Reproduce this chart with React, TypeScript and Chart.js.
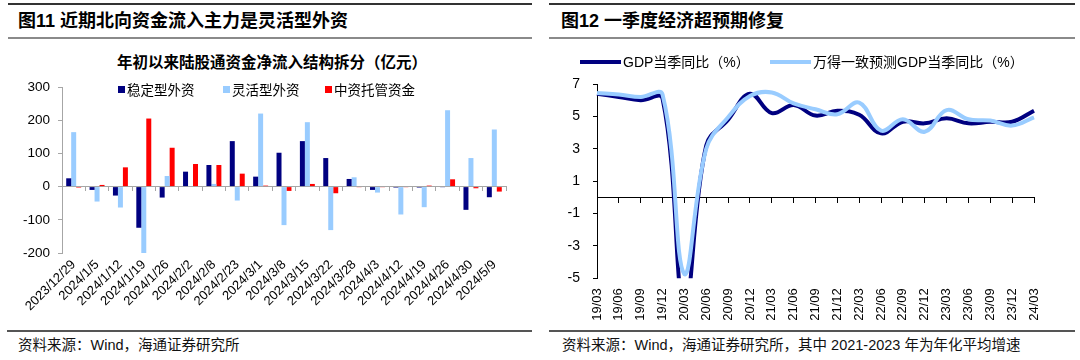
import React, { useEffect, useRef } from 'react';
import { Chart, registerables } from 'chart.js';

Chart.register(...registerables);

// ---------- Data: Figure 11 ----------
const flowDates = [
  '2023/12/29', '2024/1/5', '2024/1/12', '2024/1/19', '2024/1/26', '2024/2/2', '2024/2/8',
  '2024/2/23', '2024/3/1', '2024/3/8', '2024/3/15', '2024/3/22', '2024/3/28', '2024/4/3',
  '2024/4/12', '2024/4/19', '2024/4/26', '2024/4/30', '2024/5/9',
];
const stableForeign = [25, -10, -27, -124, -33, 45, 65, 137, 30, 102, 137, 86, 23, -10, -3, -3, -2, -70, -32];
const flexibleForeign = [164, -45, -63, -203, 32, 1, 8, -42, 220, -116, 194, -131, 28, -18, -84, -62, 230, 86, 172];
const chineseCustody = [-3, 5, 58, 205, 117, 68, 65, 39, 3, -13, 8, -20, -2, -2, -2, 3, 22, -5, -15];
const flowSeriesNames = ['稳定型外资', '灵活型外资', '中资托管资金'];

// ---------- Data: Figure 12 ----------
const quarters = [
  '19/03', '19/06', '19/09', '19/12', '20/03', '20/06', '20/09', '20/12', '21/03', '21/06', '21/09',
  '21/12', '22/03', '22/06', '22/09', '22/12', '23/03', '23/06', '23/09', '23/12', '24/03',
];
const gdpYoY = [6.4, 6.2, 6.0, 6.1, -6.8, 3.2, 4.8, 6.4, 5.2, 5.7, 5.05, 5.35, 5.1, 3.95, 4.67, 4.57, 4.88, 4.57, 4.67, 4.67, 5.35];
const consensusYoY = [6.45, 6.35, 6.2, 6.35, -4.75, 3.0, 4.95, 6.26, 6.48, 5.8, 5.44, 5.13, 5.85, 4.12, 4.82, 4.05, 5.39, 4.82, 4.74, 4.43, 4.94];
const gdpSeriesNames = ['GDP当季同比（%）', '万得一致预测GDP当季同比（%）'];

const SANS = '"Liberation Sans", Arial, "Noto Sans CJK SC", sans-serif';
const CJK = '"Noto Sans CJK SC", "Liberation Sans", sans-serif';
const MIXED = '"Liberation Sans", "Noto Sans CJK SC", sans-serif';

const NAVY = '#000080';
const LIGHT = '#99ccff';
const RED = '#ff0000';

function FlowChart() {
  const ref = useRef<HTMLCanvasElement>(null);
  useEffect(() => {
    const chart = new Chart(ref.current!, {
      type: 'bar',
      data: {
        labels: flowDates,
        datasets: [
          { label: flowSeriesNames[0], data: stableForeign, backgroundColor: NAVY },
          { label: flowSeriesNames[1], data: flexibleForeign, backgroundColor: LIGHT },
          { label: flowSeriesNames[2], data: chineseCustody, backgroundColor: RED },
        ],
      },
      options: {
        animation: false,
        responsive: false,
        layout: { padding: { top: 42, right: 24, left: 0, bottom: 0 } },
        plugins: { legend: { display: false }, tooltip: { enabled: false } },
        datasets: { bar: { categoryPercentage: 0.64, barPercentage: 1 } },
        scales: {
          x: {
            offset: true,
            grid: { display: false, drawTicks: false },
            border: { display: false },
            ticks: {
              autoSkip: false, minRotation: 45, maxRotation: 45, padding: 4, color: '#000',
              font: { family: SANS, size: 13 },
            },
            afterFit: (s: any) => { s.height = 75; },
          },
          x0: {
            type: 'category',
            position: { y: 0 },
            offset: true,
            grid: { offset: true, drawOnChartArea: false, tickLength: 4, color: '#a6a6a6' },
            border: { color: '#a6a6a6' },
            ticks: { display: false },
          },
          y: {
            min: -200, max: 300,
            ticks: { stepSize: 100, padding: 8, color: '#000', font: { family: SANS, size: 13.5 } },
            grid: { drawOnChartArea: false, tickLength: 4, color: '#a6a6a6' },
            border: { color: '#a6a6a6' },
            afterFit: (s: any) => { s.width = 42; },
          },
        },
      } as any,
    });
    return () => chart.destroy();
  }, []);
  return (
    <canvas ref={ref} width={510} height={283}
      style={{ position: 'absolute', left: 20, top: 45, width: 510, height: 283 }} />
  );
}

function GdpChart() {
  const ref = useRef<HTMLCanvasElement>(null);
  useEffect(() => {
    const chart = new Chart(ref.current!, {
      type: 'line',
      data: {
        labels: quarters,
        datasets: [
          {
            label: gdpSeriesNames[0], data: gdpYoY, borderColor: NAVY, backgroundColor: NAVY,
            borderWidth: 4, pointRadius: 0, tension: 0.4, order: 1,
            clip: { left: 4, right: 4, top: 4, bottom: 0 },
          },
          {
            label: gdpSeriesNames[1], data: consensusYoY, borderColor: LIGHT, backgroundColor: LIGHT,
            borderWidth: 4, pointRadius: 0, tension: 0.4, order: 0,
            clip: { left: 4, right: 4, top: 4, bottom: 0 },
          },
        ],
      },
      options: {
        animation: false,
        responsive: false,
        layout: { padding: { top: 39, right: 41, left: 0, bottom: 0 } },
        plugins: { legend: { display: false }, tooltip: { enabled: false } },
        scales: {
          x: {
            offset: false,
            grid: { display: false, drawTicks: false },
            border: { display: false },
            ticks: {
              autoSkip: false, minRotation: 90, maxRotation: 90, padding: 10, color: '#000',
              font: { family: SANS, size: 13 },
            },
            afterFit: (s: any) => { s.height = 49.7; },
          },
          x0: {
            type: 'category',
            position: { y: 0 },
            offset: false,
            grid: { offset: false, drawOnChartArea: false, tickLength: 5, color: '#000' },
            border: { color: '#000' },
            ticks: { display: false },
          },
          y: {
            min: -5, max: 7,
            ticks: { stepSize: 2, padding: 13, color: '#000', font: { family: SANS, size: 14 } },
            grid: { drawOnChartArea: false, tickLength: 4, color: '#000' },
            border: { color: '#000' },
            afterFit: (s: any) => { s.width = 48; },
          },
        },
      } as any,
    });
    return () => chart.destroy();
  }, []);
  return (
    <canvas ref={ref} width={526} height={283}
      style={{ position: 'absolute', left: 549, top: 45, width: 526, height: 283 }} />
  );
}

const abs = (s: React.CSSProperties): React.CSSProperties => ({ position: 'absolute', ...s });

export default function App() {
  return (
    <div style={abs({ left: 0, top: 0, width: 1080, height: 360, background: '#fff', overflow: 'hidden', fontFamily: MIXED, color: '#000' })}>
      {/* Left panel frame */}
      <div style={abs({ left: 8, top: 3, width: 524, height: 2, background: '#333' })} />
      <div style={abs({ left: 18, top: 11, lineHeight: '20px', fontSize: 18, fontWeight: 700, whiteSpace: 'nowrap' })}>
        图11 近期北向资金流入主力是灵活型外资
      </div>
      <div style={abs({ left: 8, top: 37, width: 524, height: 2, background: '#8a8a8a' })} />
      <div style={abs({ left: 20, width: 504, top: 51, lineHeight: '20px', fontSize: 15.5, fontWeight: 700, textAlign: 'center', fontFamily: CJK, whiteSpace: 'nowrap' })}>
        年初以来陆股通资金净流入结构拆分（亿元）
      </div>
      <FlowChart />
      {/* left legend */}
      {[
        { x: 118, c: NAVY, t: flowSeriesNames[0] },
        { x: 223, c: LIGHT, t: flowSeriesNames[1] },
        { x: 325, c: RED, t: flowSeriesNames[2] },
      ].map((it, i) => (
        <div key={i} style={abs({ left: it.x, top: 80, height: 18, display: 'flex', alignItems: 'center', whiteSpace: 'nowrap' })}>
          <span style={{ display: 'inline-block', width: 7, height: 7, background: it.c, marginRight: 2 }} />
          <span style={{ fontSize: 13.5, fontFamily: CJK, lineHeight: '18px' }}>{it.t}</span>
        </div>
      ))}
      <div style={abs({ left: 7, top: 330, width: 525, height: 2, background: '#555' })} />
      <div style={abs({ left: 18, top: 336, lineHeight: '18px', fontSize: 14.5, whiteSpace: 'nowrap', color: '#111' })}>
        资料来源：Wind，海通证券研究所
      </div>

      {/* Right panel frame */}
      <div style={abs({ left: 549, top: 3, width: 526, height: 2, background: '#333' })} />
      <div style={abs({ left: 561, top: 11, lineHeight: '20px', fontSize: 18, fontWeight: 700, whiteSpace: 'nowrap' })}>
        图12 一季度经济超预期修复
      </div>
      <div style={abs({ left: 549, top: 37, width: 526, height: 2, background: '#8a8a8a' })} />
      <GdpChart />
      {/* right legend */}
      {[
        { x: 580, c: NAVY, t: gdpSeriesNames[0] },
        { x: 770, c: LIGHT, t: gdpSeriesNames[1] },
      ].map((it, i) => (
        <div key={i} style={abs({ left: it.x, top: 53, height: 18, display: 'flex', alignItems: 'center', whiteSpace: 'nowrap' })}>
          <span style={{ display: 'inline-block', width: 41, height: 4, background: it.c, marginRight: 2 }} />
          <span style={{ fontSize: 14, lineHeight: '18px' }}>{it.t}</span>
        </div>
      ))}
      <div style={abs({ left: 549, top: 330, width: 526, height: 2, background: '#555' })} />
      <div style={abs({ left: 562, top: 336, lineHeight: '18px', fontSize: 14.5, whiteSpace: 'nowrap', color: '#111' })}>
        资料来源：Wind，海通证券研究所，其中 2021-2023 年为年化平均增速
      </div>
    </div>
  );
}
